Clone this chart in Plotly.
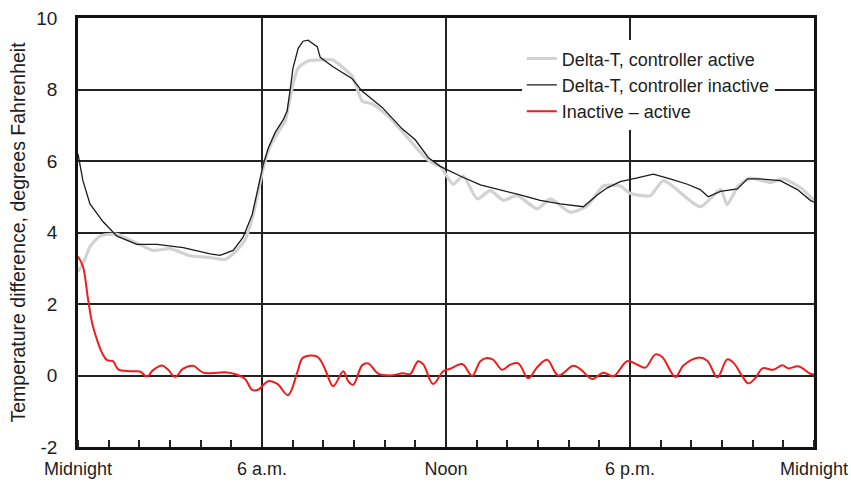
import plotly.graph_objects as go

# ---- data (hours after midnight, degrees F) ----
inactive_h = [0.0, 0.16, 0.39, 0.82, 1.27, 1.92, 2.58, 3.43, 4.31, 4.63, 5.06, 5.38, 5.68, 5.87, 6.04,
              6.2, 6.43, 6.69, 6.82, 6.92, 7.01, 7.18, 7.34, 7.5, 7.63, 7.8, 7.9, 8.29, 8.94, 9.27, 9.92,
              10.57, 10.99, 11.42, 11.81, 12.46, 13.12, 13.77, 14.42, 15.07, 15.73, 16.48, 16.93,
              17.26, 17.68, 18.24, 18.76, 19.31, 19.87, 20.29, 20.55, 20.95, 21.5, 21.83, 22.25,
              22.9, 23.46, 23.88, 24.0]
inactive_v = [6.2, 5.45, 4.8, 4.3, 3.9, 3.67, 3.67, 3.58, 3.4, 3.36, 3.5, 3.86, 4.5, 5.2, 5.9,
              6.35, 6.8, 7.15, 7.4, 8.0, 8.6, 9.15, 9.35, 9.38, 9.3, 9.2, 8.9, 8.65, 8.3, 7.95, 7.5,
              6.9, 6.6, 6.1, 5.85, 5.58, 5.33, 5.2, 5.05, 4.9, 4.8, 4.72, 5.05,
              5.25, 5.42, 5.53, 5.63, 5.5, 5.35, 5.2, 5.0, 5.15, 5.22, 5.5, 5.5,
              5.45, 5.2, 4.9, 4.85]

active_h = [0.0, 0.2, 0.39, 0.72, 1.27, 1.92, 2.45, 3.0, 3.65, 4.31, 4.8, 5.12, 5.45, 5.68, 5.87,
            6.04, 6.26, 6.59, 6.75, 7.01, 7.18, 7.5, 7.96, 8.29, 8.94, 9.27, 9.59, 10.11, 10.9,
            11.32, 11.65, 11.81, 12.23, 12.56, 13.02, 13.44, 13.87, 14.32, 14.98, 15.4, 16.05,
            16.61, 17.13, 17.68, 18.0, 18.66, 19.09, 20.29, 20.95, 21.17, 21.53, 21.93, 22.58,
            23.0, 23.56, 24.0]
active_v = [2.9, 3.2, 3.6, 3.9, 3.95, 3.7, 3.5, 3.55, 3.35, 3.3, 3.25, 3.45, 3.8, 4.4, 5.1,
            5.8, 6.4, 6.9, 7.1, 8.15, 8.6, 8.8, 8.83, 8.83, 8.37, 7.68, 7.6, 7.26, 6.5,
            6.1, 5.9, 5.86, 5.35, 5.58, 4.94, 5.17, 4.9, 5.03, 4.66, 4.94, 4.57,
            4.75, 5.3, 5.3, 5.1, 5.03, 5.45, 4.72, 5.2, 4.78, 5.3, 5.52, 5.4,
            5.5, 5.25, 4.9]

diff_h = [0.0, 0.16, 0.33, 0.46, 0.62, 0.78, 0.95, 1.14, 1.31, 1.7, 2.02, 2.25, 2.45, 2.74, 2.94,
          3.16, 3.43, 3.75, 4.08, 4.54, 4.8, 5.19, 5.45, 5.68, 5.87, 6.2, 6.49, 6.85, 7.15, 7.34,
          7.8, 8.06, 8.32, 8.65, 8.81, 8.97, 9.27, 9.46, 9.79, 10.18, 10.6, 10.83, 11.09, 11.26,
          11.58, 11.91, 12.14, 12.53, 12.85, 13.12, 13.34, 13.54, 13.83, 14.09, 14.36, 14.68,
          14.98, 15.3, 15.66, 16.15, 16.38, 16.77, 17.13, 17.46, 17.91, 18.24, 18.5, 18.83,
          19.05, 19.48, 19.74, 20.23, 20.52, 20.85, 21.17, 21.37, 21.66, 21.86, 22.09, 22.32,
          22.68, 22.97, 23.16, 23.49, 23.88, 24.0]
diff_v = [3.33, 3.05, 2.12, 1.47, 1.0, 0.64, 0.43, 0.4, 0.17, 0.12, 0.11, -0.03, 0.15, 0.28, 0.16,
          -0.04, 0.19, 0.27, 0.08, 0.08, 0.09, 0.02, -0.1, -0.4, -0.4, -0.16, -0.23, -0.55, 0.09, 0.5,
          0.53, 0.17, -0.3, 0.12, -0.16, -0.26, 0.29, 0.34, 0.05, 0.0, 0.06, 0.04, 0.4, 0.31,
          -0.24, 0.12, 0.19, 0.32, -0.01, 0.4, 0.49, 0.44, 0.16, 0.3, 0.34, -0.08,
          0.24, 0.44, 0.0, 0.27, 0.18, -0.1, 0.08, -0.02, 0.4, 0.3, 0.22, 0.59,
          0.52, -0.04, 0.28, 0.5, 0.41, -0.05, 0.45, 0.36, -0.02, -0.22, -0.07, 0.2,
          0.16, 0.29, 0.2, 0.26, 0.05, 0.03]

x_tickvals = [0, 6, 12, 18, 24]
x_ticktext = ["Midnight", "6 a.m.", "Noon", "6 p.m.", "Midnight"]
y_tickvals = [-2, 0, 2, 4, 6, 8, 10]
y_ticktext = ["-2", "0", "2", "4", "6", "8", "10"]

FONT = "Liberation Sans, Arial, sans-serif"
INK = "#1e1e1e"

fig = go.Figure()
fig.add_trace(go.Scatter(x=active_h, y=active_v, mode="lines",
                         name="Delta-T, controller active",
                         line=dict(color="#d2d2d2", width=3.2, shape="spline", smoothing=0.6)))
fig.add_trace(go.Scatter(x=inactive_h, y=inactive_v, mode="lines",
                         name="Delta-T, controller inactive",
                         line=dict(color="#1a1a1a", width=1.3)))
fig.add_trace(go.Scatter(x=diff_h, y=diff_v, mode="lines",
                         name="Inactive \u2013 active",
                         line=dict(color="#ee1c1c", width=2, shape="spline", smoothing=1.0)))

fig.update_layout(
    width=851, height=485,
    margin=dict(l=78, r=37, t=18, b=38),
    paper_bgcolor="white", plot_bgcolor="white",
    font=dict(family=FONT, size=18, color=INK),
    showlegend=True,
    legend=dict(x=0.603, y=0.948, xanchor="left", yanchor="top",
                bgcolor="white", borderwidth=0,
                font=dict(family=FONT, size=18, color=INK),
                tracegroupgap=0, itemwidth=30),
)
fig.update_xaxes(
    range=[0, 24], tickmode="array", tickvals=x_tickvals, ticktext=x_ticktext,
    showgrid=True, gridcolor="#222", gridwidth=1.8,
    showline=True, linecolor="#111", linewidth=2.5, mirror=True,
    ticks="", ticklabelstandoff=4, automargin=False,
    tickfont=dict(family=FONT, size=18, color=INK),
    minor=dict(dtick=1, ticks="inside", ticklen=7, tickwidth=1.5, tickcolor="#222", showgrid=False),
    zeroline=False,
)
fig.update_yaxes(
    range=[-2, 10], tickmode="array", tickvals=y_tickvals, ticktext=y_ticktext,
    showgrid=True, gridcolor="#222", gridwidth=1.8,
    showline=True, linecolor="#111", linewidth=2.5, mirror=True,
    ticks="", ticklabelstandoff=14, automargin=False,
    tickfont=dict(family=FONT, size=19, color=INK),
    title=dict(text="Temperature difference, degrees Fahrenheit",
               font=dict(family=FONT, size=19.5, color=INK), standoff=6),
    zeroline=False,
)

fig.write_html("out.html")
